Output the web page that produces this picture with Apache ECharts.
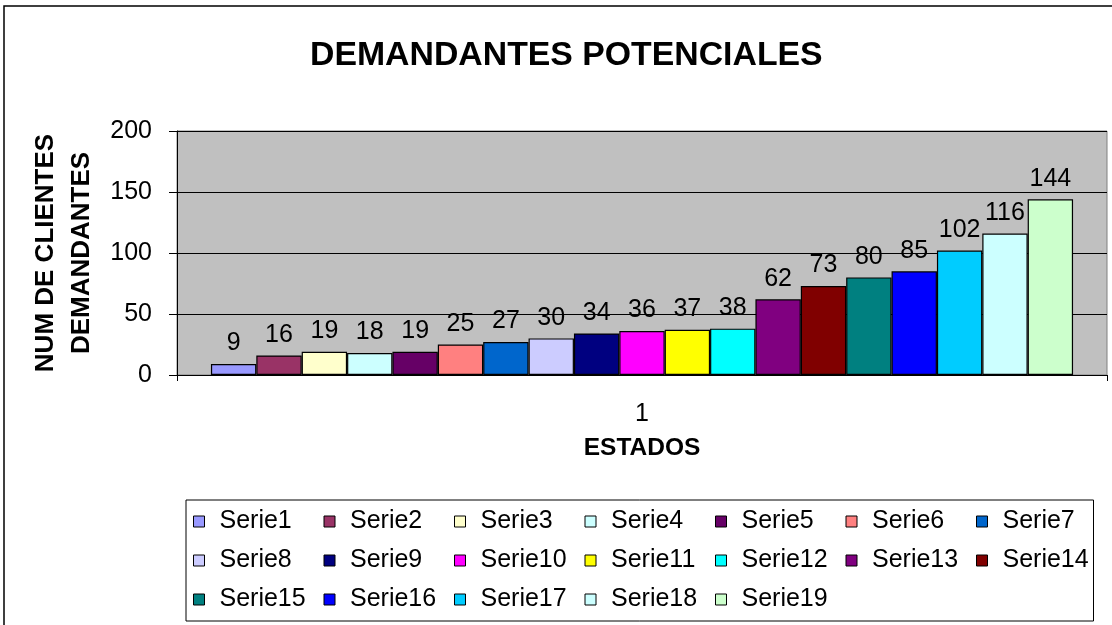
<!DOCTYPE html>
<html>
<head>
<meta charset="utf-8">
<script src="https://cdn.jsdelivr.net/npm/echarts@6/dist/echarts.min.js"></script>
<style>
html,body{margin:0;padding:0;background:#fff;}
#chart{width:1112px;height:625px;}
</style>
</head>
<body>
<div id="chart"></div>
<script>
const categories = ['1'];
const seriesNames = ['Serie1','Serie2','Serie3','Serie4','Serie5','Serie6','Serie7','Serie8','Serie9','Serie10','Serie11','Serie12','Serie13','Serie14','Serie15','Serie16','Serie17','Serie18','Serie19'];
const seriesValues = [9,16,19,18,19,25,27,30,34,36,37,38,62,73,80,85,102,116,144];
const seriesColors = ['#9999FF','#993366','#FFFFCC','#CCFFFF','#660066','#FF8080','#0066CC','#CCCCFF','#000080','#FF00FF','#FFFF00','#00FFFF','#800080','#800000','#008080','#0000FF','#00CCFF','#CCFFFF','#CCFFCC'];
const yTicks = [0,50,100,150,200];

const FONT = 'Liberation Sans';
const chart = echarts.init(document.getElementById('chart'), null, {renderer:'canvas'});

const series = seriesNames.map((name, i) => ({
  name: name,
  type: 'bar',
  data: [seriesValues[i]],
  barGap: '0%',
  barCategoryGap: '7.3%',
  itemStyle: {color: seriesColors[i], borderColor: '#000', borderWidth: 1.2},
  label: {show: true, position: 'top', distance: 8, fontFamily: FONT, fontSize: 25, color: '#000'}
}));

chart.setOption({
  animation: false,
  textStyle: {fontFamily: FONT},
  title: {
    text: 'DEMANDANTES POTENCIALES',
    left: 305, top: 34,
    textStyle: {fontFamily: FONT, fontSize: 33.8, fontWeight: 'bold', color: '#000'}
  },
  graphic: [{
    type: 'rect', shape: {x: 4, y: 6, width: 1200, height: 700},
    style: {fill: 'none', stroke: '#000', lineWidth: 1.5}, z: 100, silent: true
  }],
  grid: {
    left: 177, right: 5, top: 131, bottom: 250,
    show: true, backgroundColor: '#C0C0C0', borderColor: '#808080', borderWidth: 1
  },
  legend: {
    left: 186, top: 500, width: 905,
    padding: [9, 1, 9, 7],
    itemWidth: 11, itemHeight: 11, itemGap: 14,
    borderColor: '#000', borderWidth: 1,
    icon: 'rect',
    itemStyle: {borderColor: '#000', borderWidth: 1},
    textStyle: {fontFamily: FONT, fontSize: 25, color: '#000', width: 90, lineHeight: 22, padding: [0,0,0,10]},
    data: seriesNames
  },
  xAxis: {
    type: 'category', data: categories,
    axisLine: {lineStyle: {color: '#000', width: 1}},
    axisTick: {show: true, length: 6, lineStyle: {color: '#000'}},
    axisLabel: {fontFamily: FONT, fontSize: 25, color: '#000', margin: 27},
    name: 'ESTADOS', nameLocation: 'middle', nameGap: 61,
    nameTextStyle: {fontFamily: FONT, fontSize: 24.5, fontWeight: 'bold', color: '#000'}
  },
  yAxis: {
    type: 'value', min: yTicks[0], max: yTicks[yTicks.length-1], interval: 50,
    axisLine: {show: true, lineStyle: {color: '#000', width: 1}},
    axisTick: {show: true, length: 8, lineStyle: {color: '#000'}},
    axisLabel: {fontFamily: FONT, fontSize: 25, color: '#000', margin: 25},
    splitLine: {show: true, lineStyle: {color: '#000', width: 1}},
    name: 'NUM DE CLIENTES\nDEMANDANTES', nameLocation: 'middle', nameGap: 75, nameRotate: 90,
    nameTextStyle: {fontFamily: FONT, fontSize: 26, fontWeight: 'bold', color: '#000', lineHeight: 36}
  },
  series: series
});
</script>
</body>
</html>
